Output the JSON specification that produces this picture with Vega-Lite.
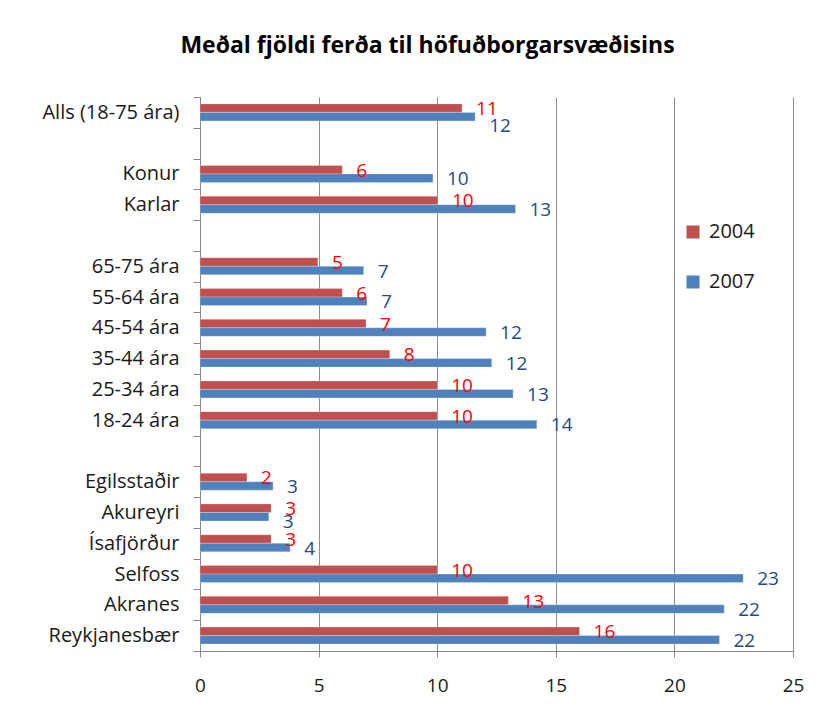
{
  "$schema": "https://vega.github.io/schema/vega-lite/v6.json",
  "width": 593,
  "height": 554,
  "autosize": {"type": "none"},
  "padding": {"left": 200, "top": 97, "right": 42, "bottom": 64},
  "background": "white",
  "title": {
    "text": "Meðal fjöldi ferða til höfuðborgarsvæðisins",
    "font": "Open Sans",
    "fontSize": 23,
    "fontWeight": "bold",
    "color": "#000000",
    "anchor": "middle",
    "dx": -69,
    "offset": 29
  },
  "config": {
    "view": {"stroke": null},
    "font": "Open Sans"
  },
  "data": {
    "values": [
      {"cat": "Alls (18-75 ára)", "year": "2004", "value": 11.05},
      {"cat": "Alls (18-75 ára)", "year": "2007", "value": 11.6},
      {"cat": "Konur", "year": "2004", "value": 6.0},
      {"cat": "Konur", "year": "2007", "value": 9.82},
      {"cat": "Karlar", "year": "2004", "value": 10.03},
      {"cat": "Karlar", "year": "2007", "value": 13.3},
      {"cat": "65-75 ára", "year": "2004", "value": 4.97},
      {"cat": "65-75 ára", "year": "2007", "value": 6.9},
      {"cat": "55-64 ára", "year": "2004", "value": 6.0},
      {"cat": "55-64 ára", "year": "2007", "value": 7.04},
      {"cat": "45-54 ára", "year": "2004", "value": 7.0},
      {"cat": "45-54 ára", "year": "2007", "value": 12.06},
      {"cat": "35-44 ára", "year": "2004", "value": 8.0},
      {"cat": "35-44 ára", "year": "2007", "value": 12.3},
      {"cat": "25-34 ára", "year": "2004", "value": 10.0},
      {"cat": "25-34 ára", "year": "2007", "value": 13.2},
      {"cat": "18-24 ára", "year": "2004", "value": 10.0},
      {"cat": "18-24 ára", "year": "2007", "value": 14.2},
      {"cat": "Egilsstaðir", "year": "2004", "value": 1.98},
      {"cat": "Egilsstaðir", "year": "2007", "value": 3.08},
      {"cat": "Akureyri", "year": "2004", "value": 3.0},
      {"cat": "Akureyri", "year": "2007", "value": 2.9},
      {"cat": "Ísafjörður", "year": "2004", "value": 3.0},
      {"cat": "Ísafjörður", "year": "2007", "value": 3.8},
      {"cat": "Selfoss", "year": "2004", "value": 10.0},
      {"cat": "Selfoss", "year": "2007", "value": 22.9},
      {"cat": "Akranes", "year": "2004", "value": 13.0},
      {"cat": "Akranes", "year": "2007", "value": 22.1},
      {"cat": "Reykjanesbær", "year": "2004", "value": 16.0},
      {"cat": "Reykjanesbær", "year": "2007", "value": 21.9}
    ]
  },
  "encoding": {
    "y": {
      "field": "cat",
      "type": "nominal",
      "scale": {
        "domain": ["Alls (18-75 ára)", "gap1", "Konur", "Karlar", "gap2", "65-75 ára", "55-64 ára", "45-54 ára", "35-44 ára", "25-34 ára", "18-24 ára", "gap3", "Egilsstaðir", "Akureyri", "Ísafjörður", "Selfoss", "Akranes", "Reykjanesbær"],
        "paddingInner": 0,
        "paddingOuter": 0
      },
      "axis": {
        "title": null,
        "labelExpr": "test(/^gap/, '' + datum.label) ? '' : datum.label",
        "tickBand": "extent",
        "ticks": true,
        "tickSize": 7,
        "tickColor": "#888888",
        "domainColor": "#888888",
        "grid": false,
        "labelFont": "Open Sans",
        "labelFontSize": 20,
        "labelColor": "#1a1a1a",
        "labelPadding": 14
      }
    },
    "yOffset": {
      "field": "year",
      "type": "nominal",
      "scale": {"domain": ["2004", "2007"], "paddingInner": 0, "paddingOuter": 0.81}
    },
    "x": {
      "field": "value",
      "type": "quantitative",
      "scale": {"domain": [0, 25], "nice": false},
      "axis": {
        "title": null,
        "values": [0, 5, 10, 15, 20, 25],
        "grid": true,
        "gridColor": "#8c8c8c",
        "gridWidth": 1,
        "tickSize": 6,
        "tickColor": "#888888",
        "domainColor": "#888888",
        "labelFlush": false,
        "labelFont": "Open Sans",
        "labelFontSize": 19,
        "labelColor": "#1a1a1a",
        "labelPadding": 19
      }
    }
  },
  "layer": [
    {
      "mark": {"type": "bar", "stroke": "#ffffff", "strokeOpacity": 0.5, "strokeWidth": 0.5},
      "encoding": {
        "color": {
          "field": "year",
          "type": "nominal",
          "scale": {"domain": ["2004", "2007"], "range": ["#C0504D", "#4F81BD"]},
          "legend": {
            "title": null,
            "orient": "none",
            "legendX": 483,
            "legendY": 125,
            "symbolType": "square",
            "symbolSize": 169,
            "symbolStrokeWidth": 0,
            "labelFont": "Open Sans",
            "labelFontSize": 20,
            "labelColor": "#1a1a1a",
            "labelOffset": 6,
            "rowPadding": 30
          }
        }
      }
    },
    {
      "transform": [{"filter": "datum.year == '2004'"}],
      "mark": {"type": "text", "align": "left", "baseline": "middle", "dx": 14, "dy": 1, "fontSize": 19, "font": "Open Sans", "color": "#FF0000"},
      "encoding": {
        "text": {"field": "value", "type": "quantitative", "format": ".0f"}
      }
    },
    {
      "transform": [{"filter": "datum.year == '2007' && datum.cat != 'Alls (18-75 ára)' && datum.cat != 'Akureyri'"}],
      "mark": {"type": "text", "align": "left", "baseline": "middle", "dx": 14, "dy": 1, "fontSize": 19, "font": "Open Sans", "color": "#254A85"},
      "encoding": {
        "text": {"field": "value", "type": "quantitative", "format": ".0f"}
      }
    },
    {
      "transform": [{"filter": "datum.year == '2007' && datum.cat == 'Alls (18-75 ára)'"}],
      "mark": {"type": "text", "align": "left", "baseline": "middle", "dx": 14, "dy": 9, "fontSize": 19, "font": "Open Sans", "color": "#254A85"},
      "encoding": {
        "text": {"field": "value", "type": "quantitative", "format": ".0f"}
      }
    },
    {
      "transform": [{"filter": "datum.year == '2007' && datum.cat == 'Akureyri'"}],
      "mark": {"type": "text", "align": "left", "baseline": "middle", "dx": 14, "dy": 5, "fontSize": 19, "font": "Open Sans", "color": "#254A85"},
      "encoding": {
        "text": {"field": "value", "type": "quantitative", "format": ".0f"}
      }
    }
  ]
}
